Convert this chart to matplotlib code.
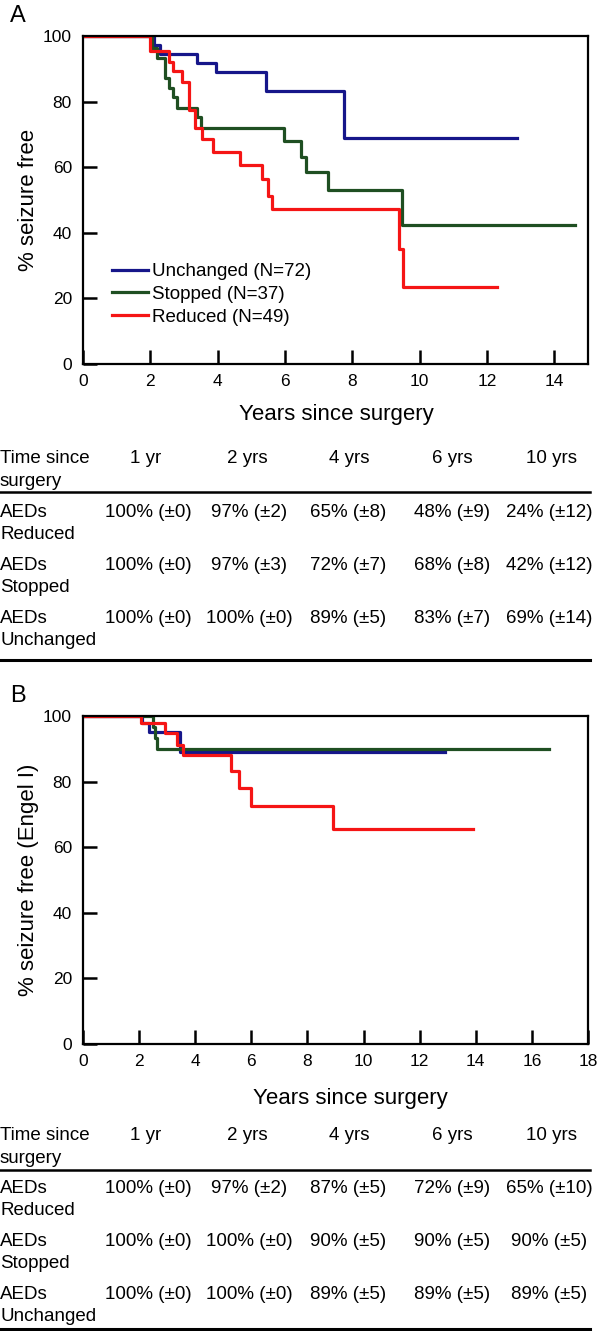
import matplotlib
matplotlib.use("Agg")
import matplotlib.pyplot as plt
import numpy as np

plt.rcParams['font.family'] = ['Liberation Sans', 'DejaVu Sans']

W = 600
H = 1331

# panel A: Kaplan-Meier, any seizure (years, % seizure free)
a_unch_t = [0, 2.1, 2.3, 3.4, 3.95, 5.45, 7.75, 12.9]
a_unch_s = [100, 97.2, 94.4, 91.7, 88.9, 83.3, 69.0, 69.0]
a_stop_t = [0, 2.05, 2.2, 2.44, 2.56, 2.68, 2.8, 3.38, 3.5, 5.97, 6.47, 6.62, 7.27, 9.49, 14.6]
a_stop_s = [100, 96.2, 93.2, 87.1, 84.0, 81.5, 78.2, 75.4, 71.9, 68.0, 63.0, 58.4, 53.0, 42.4, 42.4]
a_red_t = [0, 1.98, 2.56, 2.68, 2.93, 3.16, 3.33, 3.52, 3.87, 4.66, 5.31, 5.5, 5.62, 9.39, 9.51, 12.3]
a_red_s = [100, 95.5, 92.2, 89.2, 86.1, 77.4, 71.9, 68.5, 64.5, 60.7, 56.3, 51.3, 47.2, 35.1, 23.6, 23.6]

# panel B: Kaplan-Meier, Engel I
b_unch_t = [0, 2.1, 2.35, 3.47, 12.9]
b_unch_s = [100, 97.8, 95.2, 88.9, 88.9]
b_stop_t = [0, 2.5, 2.57, 2.65, 16.6]
b_stop_s = [100, 96.7, 93.3, 90.0, 90.0]
b_red_t = [0, 2.05, 2.92, 3.34, 3.55, 5.27, 5.57, 6.0, 8.92, 13.9]
b_red_s = [100, 97.8, 94.7, 91.2, 88.1, 83.3, 77.9, 72.5, 65.4, 65.4]

labels = ["Unchanged (N=72)", "Stopped (N=37)", "Reduced (N=49)"]
colors = ['#16168a', '#1f4f22', '#f51515']

col_heads = ["1 yr", "2 yrs", "4 yrs", "6 yrs", "10 yrs"]
row_heads = [["AEDs", "Reduced"], ["AEDs", "Stopped"], ["AEDs", "Unchanged"]]
tab_a = [["100% (\u00b10)", "97% (\u00b12)", "65% (\u00b18)", "48% (\u00b19)", "24% (\u00b112)"],
         ["100% (\u00b10)", "97% (\u00b13)", "72% (\u00b17)", "68% (\u00b18)", "42% (\u00b112)"],
         ["100% (\u00b10)", "100% (\u00b10)", "89% (\u00b15)", "83% (\u00b17)", "69% (\u00b114)"]]
tab_b = [["100% (\u00b10)", "97% (\u00b12)", "87% (\u00b15)", "72% (\u00b19)", "65% (\u00b110)"],
         ["100% (\u00b10)", "100% (\u00b10)", "90% (\u00b15)", "90% (\u00b15)", "90% (\u00b15)"],
         ["100% (\u00b10)", "100% (\u00b10)", "89% (\u00b15)", "89% (\u00b15)", "89% (\u00b15)"]]

fig = plt.figure(figsize=(W/100, H/100), dpi=100)

def fx(px):
    return px/W

def fy(py):
    return 1 - py/H

def km_axes(top, xmax, ylab, curves, legend):
    ax = fig.add_axes([fx(83), fy(top+328), fx(505), 328/H])
    for (t, s), c, lab in zip(curves, colors, labels):
        ax.step(t, s, where='post', color=c, lw=2.3, label=lab)
    ax.set_xlim(0, xmax)
    ax.set_ylim(0, 100)
    ax.set_xticks(np.arange(0, xmax+0.1, 2) if xmax == 18 else np.arange(0, 15, 2))
    ax.set_yticks(np.arange(0, 101, 20))
    ax.xaxis.set_tick_params(which='major', direction='in', length=10, width=1.8,
                             color='black', bottom=True, top=False, labelsize=12.5, pad=7)
    ax.yaxis.set_tick_params(which='major', direction='in', length=10, width=1.8,
                             color='black', left=True, right=False, labelsize=12.5, pad=8)
    for sp in ax.spines.values():
        sp.set_linewidth(1.6)
    ax.set_ylabel(ylab, fontsize=16, labelpad=3)
    if legend:
        ax.legend(loc='upper left', bbox_to_anchor=(0.058, 0.308), frameon=False,
                  fontsize=13.5, handlelength=1.9, handletextpad=0.2,
                  labelspacing=0.3, borderpad=0, borderaxespad=0)
    return ax

ax1 = km_axes(36, 15, "% seizure free",
              [(a_unch_t, a_unch_s), (a_stop_t, a_stop_s), (a_red_t, a_red_s)], True)
ax2 = km_axes(716, 18, "% seizure free (Engel I)",
              [(b_unch_t, b_unch_s), (b_stop_t, b_stop_s), (b_red_t, b_red_s)], False)

fig.text(fx(10), fy(22), "A", fontsize=17)
fig.text(fx(10), fy(702), "B", fontsize=17)
fig.text(fx(336), fy(420), "Years since surgery", fontsize=16, ha='center')
fig.text(fx(350), fy(1104), "Years since surgery", fontsize=16, ha='center')

head_x = [146, 247, 349, 452, 551]
val_x = [148, 249, 348, 452, 549]

def table(vals, base, line_y, rows_y, bottom_y):
    fig.text(0, fy(base), "Time since", fontsize=13.5)
    fig.text(0, fy(base+23), "surgery", fontsize=13.5)
    for x, h in zip(head_x, col_heads):
        fig.text(fx(x), fy(base), h, fontsize=13.5, ha='center')
    fig.add_artist(plt.Line2D([0, fx(590)], [fy(line_y), fy(line_y)], color='black', lw=1.8))
    for r, ry in enumerate(rows_y):
        fig.text(0, fy(ry), row_heads[r][0], fontsize=13.5)
        fig.text(0, fy(ry+22), row_heads[r][1], fontsize=13.5)
        for x, v in zip(val_x, vals[r]):
            fig.text(fx(x), fy(ry), v, fontsize=13.5, ha='center')
    fig.add_artist(plt.Line2D([0, fx(590)], [fy(bottom_y), fy(bottom_y)], color='black', lw=2.2))

table(tab_a, 463, 492, [517, 570, 623], 660)
table(tab_b, 1140, 1170, [1193, 1246, 1299], 1329)

plt.savefig("out.png", dpi=100)
